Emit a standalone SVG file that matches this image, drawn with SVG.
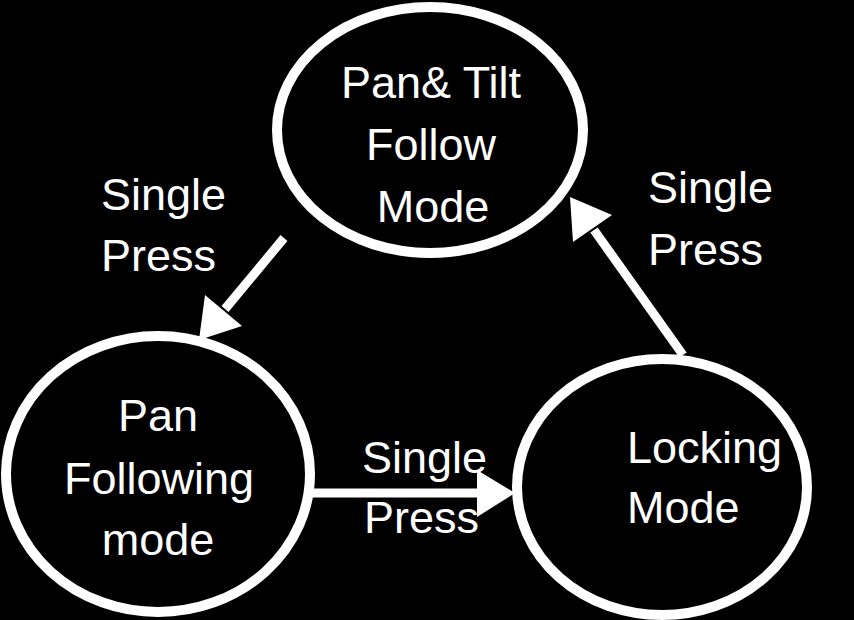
<svg xmlns="http://www.w3.org/2000/svg" width="854" height="620" viewBox="0 0 854 620">
<style>
.node{fill:#000;stroke:#fff;stroke-width:10}
.t{font-family:"Liberation Sans",Arial,sans-serif;font-size:45px;fill:#fff}
.c{text-anchor:middle}
.edge{stroke:#fff;stroke-width:9;fill:none}
.head{fill:#fff}
</style>
<rect width="854" height="620" fill="#000"/>
<g id="connectors">
<line class="edge" x1="284" y1="238" x2="225" y2="309"/>
<polygon class="head" points="199,340 242,326 205,295"/>
<line class="edge" x1="300" y1="493" x2="480" y2="493"/>
<polygon class="head" points="477,470 515,493 477,517"/>
<line class="edge" x1="683" y1="355" x2="594" y2="230"/>
<polygon class="head" points="570,197 612,215 573,242"/>
<text class="t" x="101" y="210">Single</text>
<text class="t" x="101" y="271">Press</text>
<text class="t" x="648" y="203">Single</text>
<text class="t" x="648" y="265">Press</text>
<text class="t" x="362" y="473">Single</text>
<text class="t" x="364" y="533">Press</text>
</g>
<g id="pantilt">
<ellipse class="node" cx="430" cy="130" rx="153" ry="123"/>
<text class="t c" x="431" y="98">Pan&amp; Tilt</text>
<text class="t c" x="431" y="160">Follow</text>
<text class="t c" x="433" y="222">Mode</text>
</g>
<g id="panfollow">
<ellipse class="node" cx="158" cy="474" rx="152" ry="138"/>
<text class="t c" x="158" y="431">Pan</text>
<text class="t c" x="159" y="494">Following</text>
<text class="t c" x="158" y="555">mode</text>
</g>
<g id="locking">
<ellipse class="node" cx="662" cy="487" rx="145" ry="128"/>
<text class="t" x="627" y="463">Locking</text>
<text class="t" x="627" y="523">Mode</text>
</g>
</svg>
